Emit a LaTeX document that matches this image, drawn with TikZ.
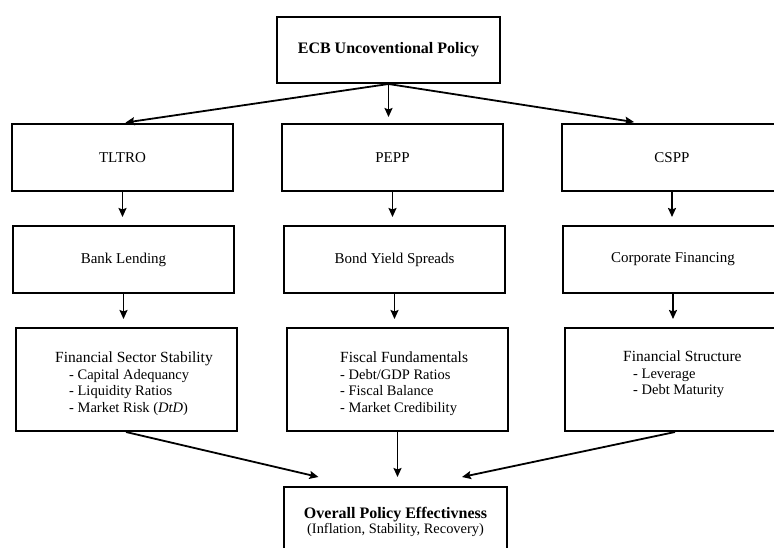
\documentclass[tikz,border=0pt]{standalone}
\usepackage{fontspec}
\setmainfont{Liberation Serif}
\usetikzlibrary{arrows.meta}

\newcommand{\itm}[1]{{\fontsize{14.5}{16.7}\selectfont - #1}}

\begin{document}
\begin{tikzpicture}[x=1pt,y=-1pt,
            box/.style={draw,line width=2pt,minimum width=221pt,minimum height=67pt,inner sep=0pt,font=\fontsize{15}{18}\selectfont},
            tall/.style={box,minimum height=103pt},
            list/.style={anchor=north west,inner sep=0pt,align=left,font=\fontsize{15.5}{16.7}\selectfont},
            arr/.style={line width=1.8pt,-{Stealth[length=9pt,width=8pt,inset=1.5pt]}}]
            \useasboundingbox (0,0) rectangle (774,548);
            \node[box,minimum width=223pt,minimum height=66pt,font=\bfseries\fontsize{16}{19}\selectfont] (ecb) at (388.5,50) {ECB Uncoventional Policy};
            \node[box] (tltro) at (122.5,157.5) {TLTRO};
            \node[box] (pepp) at (392.5,157.5) {PEPP};
            \node[box] (cspp) at (672,157.5) {CSPP};
            \node[box] (bank) at (123.5,259.5) {Bank Lending};
            \node[box] (bond) at (394.5,259.5) {Bond Yield Spreads};
            \node[box] (corp) at (673,259.5) {Corporate Financing};
            \node[tall] (fss) at (126,379.5) {};
            \node[tall] (fisc) at (397.5,379.5) {};
            \node[tall] (fstr) at (675,379.5) {};
            \node[list] (fsstxt) at (55,351.4) {Financial Sector Stability\\ \hspace*{14pt}\itm{Capital Adequancy}\\ \hspace*{14pt}\itm{Liquidity Ratios}\\ \hspace*{14pt}\itm{Market Risk (\textit{DtD})}};
            \node[list] (fisctxt) at (340,351.4) {Fiscal Fundamentals\\ \itm{Debt/GDP Ratios}\\ \itm{Fiscal Balance}\\ \itm{Market Credibility}};
            \node[list] (fstrtxt) at (623,350.4) {Financial Structure\\ \hspace*{10pt}\itm{Leverage}\\ \hspace*{10pt}\itm{Debt Maturity}};
            \node[box,minimum width=223pt,minimum height=70pt,align=center,font=\fontsize{16}{13.5}\selectfont] (overall) at (395.5,522) {\textbf{Overall Policy Effectivness}\\ {\fontsize{14.4}{13.5}\selectfont (Inflation, Stability, Recovery)}};
            \draw[arr,shorten >=3pt] (ecb.south) -- (tltro.north);
            \draw[arr,shorten >=6pt] (ecb.south) -- (ecb.south |- pepp.north);
            \draw[arr,shorten >=6pt] (ecb.south) -- ([xshift=-32pt]cspp.north);
            \draw[arr,shorten >=8pt] (tltro.south) -- (tltro.south |- bank.north);
            \draw[arr,shorten >=8pt] (pepp.south) -- (pepp.south |- bond.north);
            \draw[arr,shorten >=8pt] (cspp.south) -- (cspp.south |- corp.north);
            \draw[arr,shorten >=8pt] (bank.south) -- (bank.south |- fss.north);
            \draw[arr,shorten >=8pt] (bond.south) -- (bond.south |- fisc.north);
            \draw[arr,shorten >=8pt] (corp.south) -- (corp.south |- fstr.north);
            \draw[arr] (fss.south) -- ([xshift=-77pt,yshift=9pt]overall.north);
            \draw[arr,shorten >=9pt] (fisc.south) -- (fisc.south |- overall.north);
            \draw[arr] (fstr.south) -- ([xshift=66.5pt,yshift=9pt]overall.north);
        \end{tikzpicture}
\end{document}
